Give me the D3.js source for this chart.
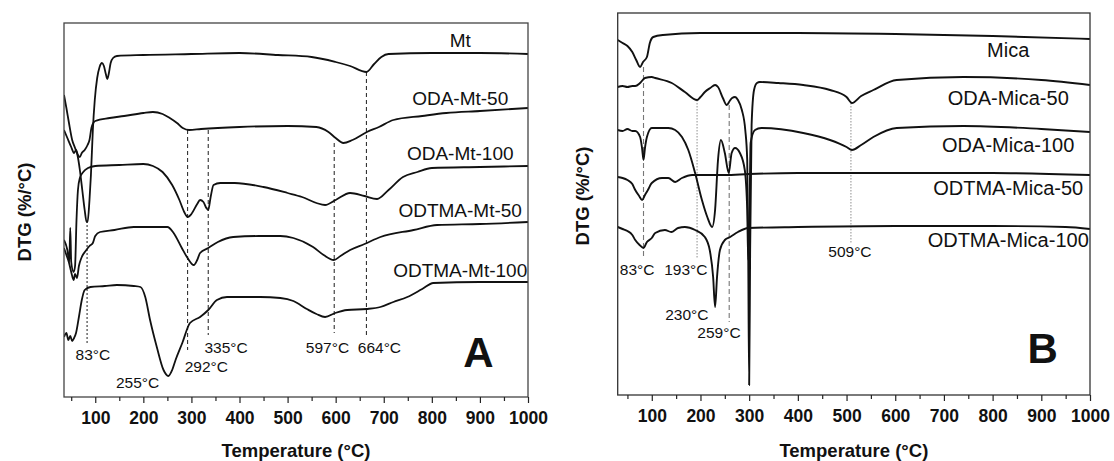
<!DOCTYPE html>
<html><head><meta charset="utf-8">
<script src="https://cdn.jsdelivr.net/npm/d3@7"></script>
<style>
body{margin:0;background:#fff}
svg{display:block}
text{font-family:"Liberation Sans",Arial,Helvetica,sans-serif;fill:#111}
</style>
</head><body>
<svg id="chart" width="1114" height="461"></svg>
<script>
// ---------------- DATA ----------------
const tempTicks = [100,200,300,400,500,600,700,800,900,1000];
const tempMinorTicks = [50,150,250,350,450,550,650,750,850,950];

// Panel A (montmorillonite) – DTG curves, stacked (arbitrary offset units)
const seriesNamesA = ["Mt","ODA-Mt-50","ODA-Mt-100","ODTMA-Mt-50","ODTMA-Mt-100"];
const dtgMt = [[35,302],[40,289],[45,275],[52,257],[58,249],[63,242],[68,227],[73,207],[78,187],[82,175],[84,175],[88,197],[91,222],[95,267],[99,297],[104,319],[109,330],[114,334],[118,331],[122,323],[125,318],[128,323],[132,334],[137,339],[145,341],[200,342],[300,343],[400,344],[480,342],[550,340],[600,335],[630,331],[664,325],[680,333],[695,340],[710,343],[800,344],[900,344],[1000,343]];
const dtgOdaMt50 = [[35,267],[42,259],[50,250],[56,244],[60,247],[64,242],[68,240],[72,244],[78,247],[84,252],[88,257],[92,269],[96,274],[100,276],[130,279],[160,281],[200,284],[220,285],[240,283],[255,279],[270,274],[282,269],[295,267],[320,268],[400,270],[500,271],[560,270],[585,265],[600,259],[616,254],[635,257],[665,265],[690,270],[720,277],[780,281],[830,284],[900,286],[1000,289]];
const dtgOdaMt100 = [[35,157],[42,147],[46,135],[48,169],[50,135],[55,125],[58,131],[61,177],[64,207],[68,219],[75,225],[85,229],[100,231],[150,232],[200,233],[220,231],[240,225],[260,212],[275,197],[285,185],[292,180],[300,183],[312,193],[318,197],[325,195],[331,189],[335,187],[340,200],[346,212],[360,214],[390,214],[450,210],[500,204],[530,200],[560,194],[578,192],[600,197],[630,204],[660,201],[686,198],[710,207],[740,220],[770,225],[800,229],[900,230],[1000,231]];
const dtgOdtmaMt50 = [[35,149],[40,142],[45,135],[50,125],[55,117],[58,123],[62,119],[66,131],[72,140],[80,146],[88,151],[95,154],[100,161],[110,165],[140,167],[180,170],[250,170],[263,164],[280,149],[292,139],[305,132],[312,137],[318,144],[335,149],[355,155],[387,160],[440,161],[485,161],[512,159],[553,150],[575,142],[596,137],[610,141],[630,147],[660,153],[693,160],[762,167],[811,172],[900,173],[1000,175]];
const dtgOdtmaMt100 = [[35,60],[40,64],[44,57],[48,61],[52,56],[56,59],[60,64],[66,80],[72,97],[78,107],[90,110],[120,111],[145,112],[180,111],[194,110],[204,100],[214,77],[228,50],[242,27],[252,21],[260,27],[267,37],[281,54],[297,74],[318,80],[335,87],[353,97],[374,100],[443,100],[485,99],[512,96],[540,88],[560,83],[578,80],[599,84],[624,87],[664,88],[693,90],[720,95],[749,100],[780,108],[803,114],[900,115],[1000,115]];
const peakTempsA = [83,255,292,335,597,664];
const peakLabelsA = ["83°C","255°C","292°C","335°C","597°C","664°C"];

// Panel B (mica)
const seriesNamesB = ["Mica","ODA-Mica-50","ODA-Mica-100","ODTMA-Mica-50","ODTMA-Mica-100"];
const dtgMica = [[30,355],[40,352],[50,349],[60,343],[68,335],[76,328],[82,333],[90,338],[96,352],[103,358],[123,360],[200,362],[400,362],[600,361],[800,359],[1000,356]];
const dtgOdaMica50 = [[30,308],[40,309],[50,308],[60,309],[66,309],[76,312],[86,317],[100,318],[107,317],[141,312],[168,303],[193,295],[200,298],[209,303],[220,307],[230,310],[236,308],[246,297],[254,290],[260,294],[265,297],[271,298],[277,295],[285,285],[292,265],[296,235],[298,145],[300,10],[302,145],[305,270],[310,305],[316,312],[322,313],[360,312],[411,310],[466,305],[500,298],[511,292],[530,299],[555,305],[603,315],[740,318],[900,315],[1000,310]];
const dtgOdaMica100 = [[30,265],[40,264],[50,266],[60,264],[66,264],[76,258],[80,247],[83,235],[86,247],[90,258],[100,267],[134,267],[148,265],[162,258],[175,245],[189,222],[203,195],[214,178],[224,168],[230,185],[236,235],[242,255],[250,242],[258,222],[264,242],[271,247],[281,242],[291,225],[296,185],[298,135],[300,155],[303,252],[312,265],[325,267],[411,262],[466,255],[500,248],[511,245],[530,250],[555,258],[603,267],[740,269],[900,266],[1000,263]];
const dtgOdtmaMica50 = [[30,218],[40,217],[50,215],[60,211],[66,205],[74,199],[80,195],[86,200],[92,205],[100,212],[121,217],[134,217],[148,213],[162,217],[183,220],[250,220],[300,221],[400,222],[600,222],[800,222],[1000,220]];
const dtgOdtmaMica100 = [[30,168],[40,166],[50,164],[60,160],[66,155],[75,150],[83,147],[90,153],[100,157],[107,162],[127,165],[140,163],[154,167],[168,168],[189,165],[209,158],[219,145],[226,118],[230,88],[234,118],[240,145],[250,155],[261,158],[277,163],[298,167],[400,168],[600,169],[800,169],[950,168],[1000,166]];
const peakTempsB = [83,193,230,259,509];
const peakLabelsB = ["83°C","193°C","230°C","259°C","509°C"];

// ---------------- LAYOUT (positions in data units, styles) ----------------
const panels = [
  {
    letter:"A", xDomain:[35,1000], xRange:[64,528], yDomain:[0,374], yRange:[397,23],
    series:[dtgMt,dtgOdaMt50,dtgOdaMt100,dtgOdtmaMt50,dtgOdtmaMt100], names:seriesNamesA,
    nameAnchor:{t:859, v:[357,299,244,187,127]}, nameSize:19,
    peaks:peakTempsA, peakLabels:peakLabelsA,
    peakLabelPos:[[95,42],[188,14],[331,30],[372,49],[583,49],[691,49]],
    guides:[{t:83,v:[172,54],dash:"2,2",color:"#333"},{t:292,v:[267,47],dash:"4,3",color:"#333"},
            {t:335,v:[267,62],dash:"4,3",color:"#333"},{t:597,v:[254,64],dash:"4,3",color:"#333"},
            {t:664,v:[325,62],dash:"4,3",color:"#333"}],
    letterPos:[897,45], yTitleX:25, yTitleY:212, frame:"#444", lw:1.8
  },
  {
    letter:"B", xDomain:[30,1000], xRange:[617.7,1090], yDomain:[0,382], yRange:[395,13],
    series:[dtgMica,dtgOdaMica50,dtgOdaMica100,dtgOdtmaMica50,dtgOdtmaMica100], names:seriesNamesB,
    nameAnchor:{t:832, v:[345,297,250,207,155]}, nameSize:20,
    peaks:peakTempsB, peakLabels:peakLabelsB,
    peakLabelPos:[[70,125],[170,125],[172,80],[238,62],[507,143]],
    guides:[{t:83,v:[328,137],dash:"5,3",color:"#777"},{t:193,v:[295,137],dash:"1.5,1.5",color:"#999"},
            {t:259,v:[290,73],dash:"5,3",color:"#777"},{t:509,v:[292,152],dash:"1.5,1.5",color:"#999"}],
    letterPos:[903,47], yTitleX:583, yTitleY:196, frame:"#333", lw:1.9
  }
];

const svg = d3.select("#chart");

panels.forEach((p, pi) => {
  const x = d3.scaleLinear().domain(p.xDomain).range(p.xRange);
  const y = d3.scaleLinear().domain(p.yDomain).range(p.yRange);
  const g = svg.append("g");

  const clipId = "clip" + pi;
  g.append("clipPath").attr("id", clipId).append("rect")
    .attr("x", p.xRange[0]).attr("y", p.yRange[1])
    .attr("width", p.xRange[1]-p.xRange[0]).attr("height", p.yRange[0]-p.yRange[1]);

  // guides
  g.selectAll(".guide").data(p.guides).enter().append("line")
    .attr("x1", d => x(d.t)).attr("x2", d => x(d.t))
    .attr("y1", d => y(d.v[0])).attr("y2", d => y(d.v[1]))
    .attr("stroke", d => d.color).attr("stroke-width", 1.1)
    .attr("stroke-dasharray", d => d.dash);

  // curves
  const line = d3.line().x(d => x(d[0])).y(d => y(d[1])).curve(d3.curveMonotoneX);
  g.append("g").attr("clip-path", `url(#${clipId})`)
    .selectAll("path").data(p.series).enter().append("path")
    .attr("d", line).attr("fill", "none").attr("stroke", "#111")
    .attr("stroke-width", p.lw).attr("stroke-linejoin", "round");

  // frame
  g.append("rect").attr("x", p.xRange[0]).attr("y", p.yRange[1])
    .attr("width", p.xRange[1]-p.xRange[0]).attr("height", p.yRange[0]-p.yRange[1])
    .attr("fill", "none").attr("stroke", p.frame).attr("stroke-width", 1.3);

  // axis
  const axis = d3.axisBottom(x).tickValues(tempTicks).tickFormat(d3.format("d"))
    .tickSizeInner(6).tickSizeOuter(0).tickPadding(9);
  const ag = g.append("g").attr("class", "xaxis")
    .attr("transform", `translate(0,${p.yRange[0]})`).call(axis);
  ag.attr("font-family", "Liberation Sans, Arial, sans-serif")
    .attr("font-size", 17.5).attr("font-weight", "bold");
  ag.select(".domain").remove();
  ag.selectAll(".tick line").attr("stroke", "#222").attr("stroke-width", 1.2);
  ag.selectAll(".tick text").attr("fill", "#111").attr("font-weight", "bold")
    .attr("font-family", "Liberation Sans, Arial, sans-serif").attr("font-size", 17.5);
  const minor = d3.axisBottom(x).tickValues(tempMinorTicks).tickFormat("")
    .tickSizeInner(4).tickSizeOuter(0);
  const mg = g.append("g").attr("transform", `translate(0,${p.yRange[0]})`).call(minor);
  mg.select(".domain").remove();
  mg.selectAll(".tick line").attr("stroke", "#222").attr("stroke-width", 1.2);

  // axis titles
  g.append("text").attr("x", (p.xRange[0]+p.xRange[1])/2).attr("y", 457)
    .attr("text-anchor", "middle").attr("font-size", 18.5).attr("font-weight", "bold")
    .text("Temperature (°C)");
  g.append("text").attr("transform", `translate(${p.yTitleX},${p.yTitleY}) rotate(-90)`)
    .attr("text-anchor", "middle").attr("dy", "0.35em")
    .attr("font-size", 18.5).attr("font-weight", "bold").text("DTG (%/°C)");

  // series names
  g.selectAll(".sname").data(p.names).enter().append("text")
    .attr("x", x(p.nameAnchor.t)).attr("y", (d,i) => y(p.nameAnchor.v[i]))
    .attr("dy", "0.35em").attr("text-anchor", "middle")
    .attr("font-size", p.nameSize).text(d => d);

  // peak labels
  g.selectAll(".plabel").data(p.peakLabels).enter().append("text")
    .attr("x", (d,i) => x(p.peakLabelPos[i][0])).attr("y", (d,i) => y(p.peakLabelPos[i][1]))
    .attr("dy", "0.35em").attr("text-anchor", "middle")
    .attr("font-size", 15.5).attr("fill", "#222").text(d => d);

  // panel letter
  g.append("text").attr("x", x(p.letterPos[0])).attr("y", y(p.letterPos[1]))
    .attr("dy", "0.36em").attr("text-anchor", "middle")
    .attr("font-size", 42).attr("font-weight", "bold").text(p.letter);
});
</script>
</body></html>
